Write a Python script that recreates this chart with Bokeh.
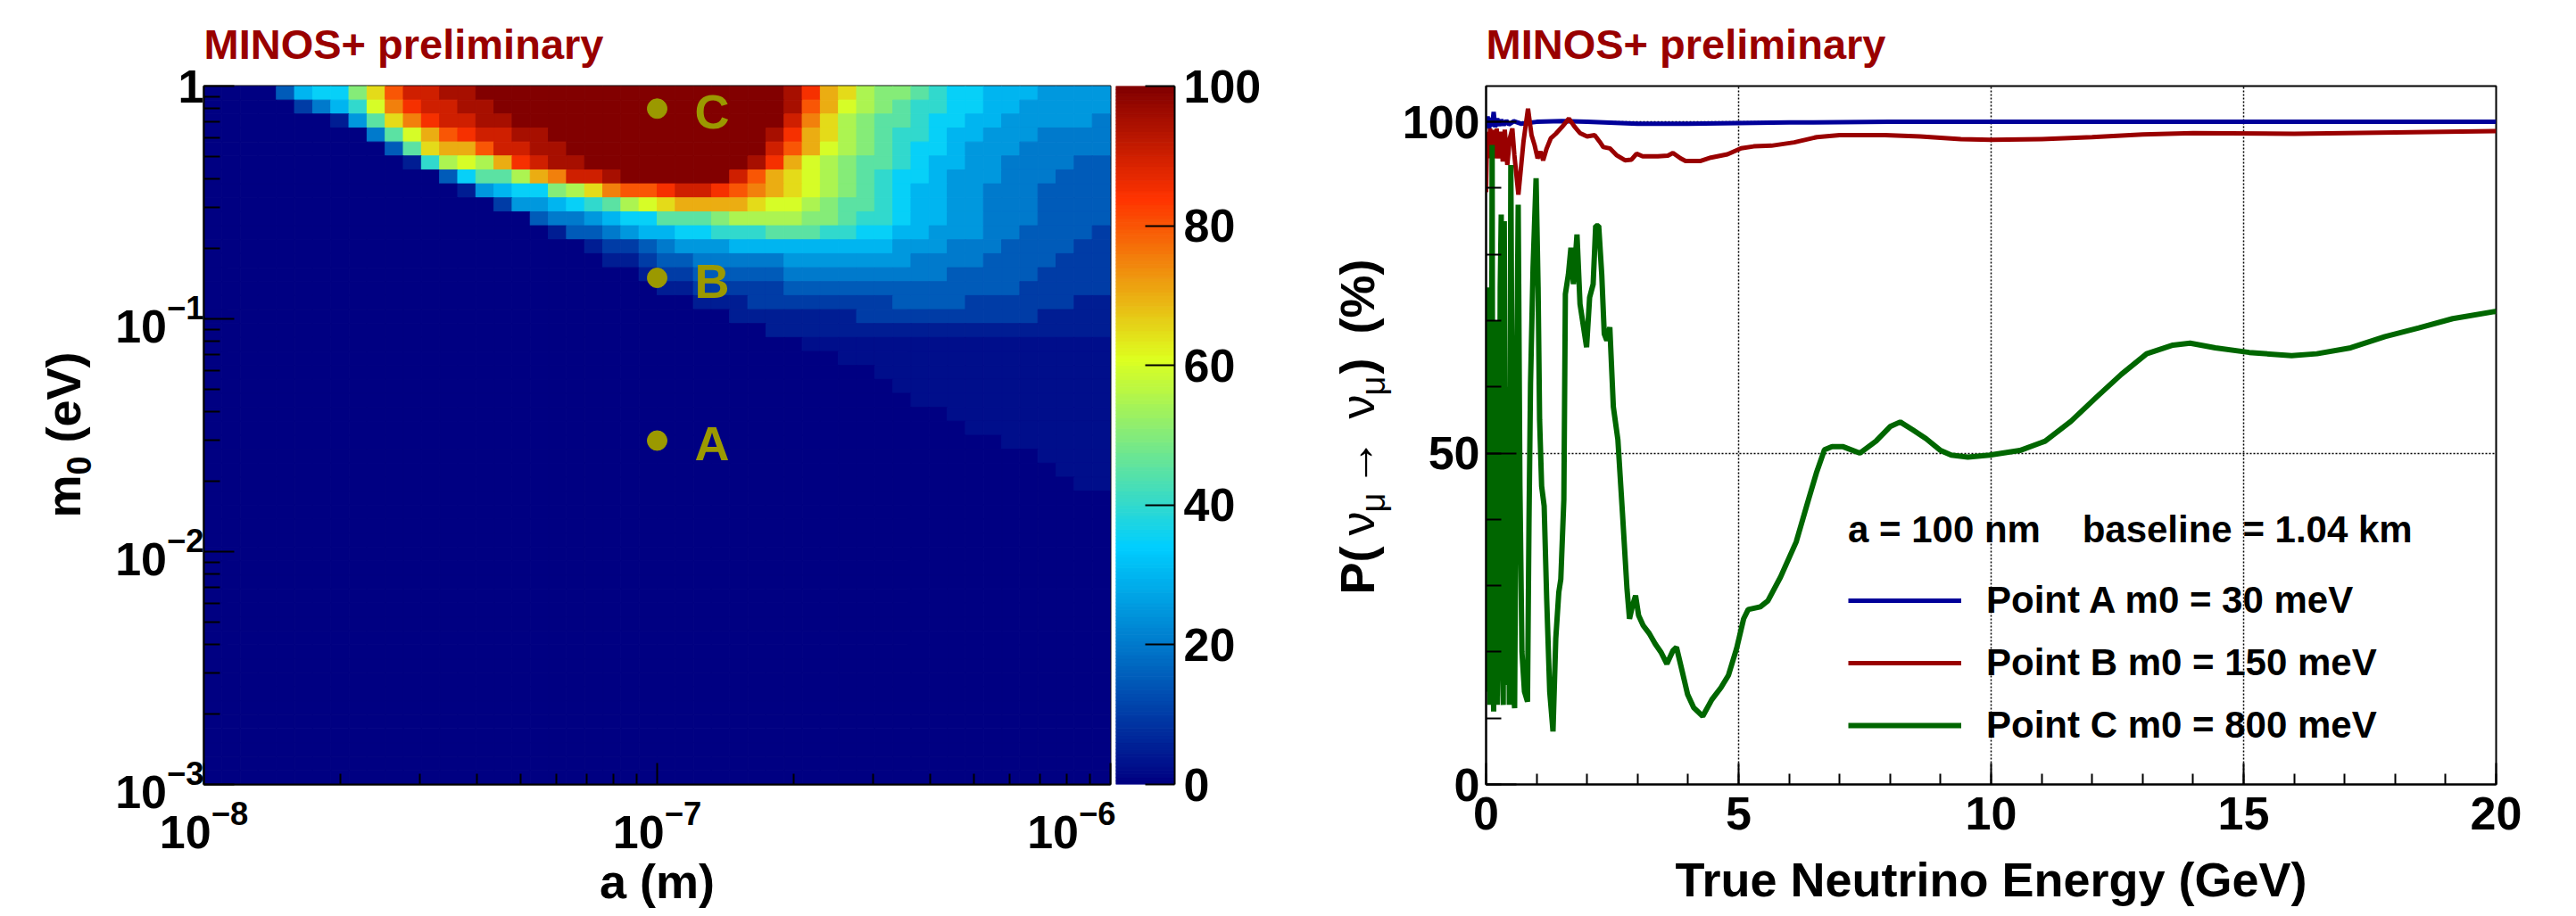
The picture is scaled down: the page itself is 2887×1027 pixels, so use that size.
import numpy as np
from bokeh.plotting import figure
from bokeh.layouts import row
from bokeh.models import (Range1d, FixedTicker, SingleIntervalTicker, LogTickFormatter,
                          LinearColorMapper, Legend, LegendItem, ColumnDataSource)
from bokeh.core.properties import value
from bokeh.embed import file_html
from bokeh.resources import INLINE

FONT = "Liberation Sans"

# ------------------------------------------------------------------ data: left panel
A_LOG_RANGE = (-8.0, -6.0)
M_LOG_RANGE = (0.0, -3.0)
N_COLS, N_ROWS = 50, 50
CELL_CODE = "0123456789abcdefghijk"   # value (%) = 5 * index ; '.' = 2.5 %
HEAT_ROWS = [
    "00003677adgiijj" + "k" * 17 + "jhedbaa98776665555",
    "000002468cfhiijj" + "k" * 16 + "jgecba988776655555",
    "0000000159dfhiijj" + "k" * 15 + "ifdba9987766555554",
    "000000000" + "49ceghiijj" + "k" * 12 + "jhedba9887665554444",
    "0000000000" + "39deegiijj" + "k" * 11 + "igecba9877655544444",
    "00000000000" + "18bcbehijj" + "k" * 9 + "jhecba99876655444433",
    "0000000000000" + "3799befiijkk" + "kkkk" + "igedcba98776555444333",
    "00000000000000" + "15677abdfgg" + "hiihgfedcba98766554443333",
    "0" * 16 + "2556789bc" + "deeeedccba998766554443333",
    "0" * 18 + "3445677" + "999abbbbaa988766554443333",
    "0" * 19 + "133456" + "6778889998877665554433332",
    "0" * 21 + "1223" + "4555666666666555444333322",
    "0" * 22 + "112" + "3344444555555544443333222",
    "0" * 24 + "1" + "2233333444444444333332222",
    "0" * 25 + "1122222333333333333322222",
    "0" * 27 + "11122222222333322222211",
    "0" * 29 + "111111122222222221111",
    "0" * 31 + "1" * 19,
    "0" * 33 + "." * 17,
    "0" * 35 + "." * 15,
    "0" * 37 + "." * 13,
    "0" * 38 + "." * 12,
    "0" * 39 + "." * 11,
    "0" * 41 + "." * 9,
    "0" * 42 + "." * 8,
    "0" * 44 + "." * 6,
    "0" * 46 + "." * 4,
    "0" * 47 + "." * 3,
    "0" * 48 + "." * 2,
] + ["0" * 50] * 21

POINT_A = [1e-7, 1e-7, 1e-7]          # a (m)
POINT_M0 = [0.03, 0.15, 0.8]          # m0 (eV)
POINT_NAMES = ["A", "B", "C"]

COLORBAR_TICKS = [0, 20, 40, 60, 80, 100]

# ------------------------------------------------------------------ data: right panel
E_A = [0.0, 0.03, 0.06, 0.09, 0.12, 0.15, 0.18, 0.22, 0.26, 0.30, 0.35, 0.40, 0.45, 0.55,
       0.70, 1.0, 1.5, 2.0, 3.0, 4.0, 5.0, 6.0, 8.0, 12.0, 16.0, 20.0]
P_A = [99.5, 100.8, 99.0, 100.6, 99.3, 101.5, 99.2, 100.5, 99.4, 100.3, 99.5, 100.2, 99.6, 100.1,
       99.7, 100.0, 100.1, 100.0, 99.7, 99.7, 99.8, 99.9, 100.0, 100.0, 100.0, 100.0]

E_B = [0.00, 0.02, 0.05, 0.08, 0.11, 0.14, 0.17, 0.21, 0.25, 0.29, 0.33, 0.37, 0.42, 0.47,
       0.52, 0.56, 0.64, 0.74, 0.83, 0.90, 0.96, 1.02, 1.08, 1.13, 1.20, 1.28, 1.38, 1.50,
       1.64, 1.75, 1.86, 2.00, 2.15, 2.25, 2.32, 2.45, 2.58, 2.75, 2.88, 2.98, 3.10, 3.40,
       3.60, 3.70, 3.85, 3.95, 4.25, 4.45, 4.78, 5.05, 5.30, 5.65, 6.10, 6.55, 7.00, 7.90,
       8.60, 9.40, 10.0, 11.0, 12.0, 13.0, 14.0, 16.0, 18.0, 20.0]
P_B = [89.4, 98.5, 94.5, 99.0, 95.0, 98.8, 94.5, 99.0, 94.5, 98.5, 94.0, 98.8, 93.5, 97.5,
       99.0, 95.0, 89.0, 97.0, 102.0, 98.0, 96.5, 94.5, 95.5, 94.2, 96.0, 97.5, 98.2, 99.2,
       100.5, 99.3, 98.3, 97.8, 98.0, 97.0, 96.2, 96.0, 95.0, 94.2, 94.3, 95.2, 94.8, 94.8,
       94.9, 95.3, 94.5, 94.1, 94.1, 94.6, 95.1, 96.0, 96.3, 96.4, 96.9, 97.7, 98.0, 98.0,
       97.8, 97.4, 97.3, 97.4, 97.7, 98.1, 98.3, 98.2, 98.4, 98.6]

E_C = [0.000, 0.006, 0.012, 0.018, 0.024, 0.030, 0.036, 0.042, 0.050, 0.060, 0.075, 0.090,
       0.105, 0.120, 0.135, 0.150, 0.170, 0.190, 0.205, 0.220, 0.240, 0.255, 0.280, 0.300,
       0.320, 0.340, 0.360, 0.390, 0.430, 0.460, 0.490, 0.520, 0.545, 0.565, 0.600, 0.636,
       0.670, 0.710, 0.760, 0.820, 0.850, 0.880, 0.930, 0.990, 1.030, 1.060, 1.100, 1.150,
       1.200, 1.260, 1.325, 1.380, 1.440, 1.480, 1.540, 1.570, 1.630, 1.680, 1.730, 1.800,
       1.860, 1.990, 2.050, 2.120, 2.170, 2.230, 2.290, 2.340, 2.390, 2.450, 2.520, 2.610,
       2.700, 2.790, 2.840, 2.900, 2.960, 3.020, 3.110, 3.230, 3.350, 3.460, 3.580, 3.700,
       3.770, 3.870, 3.990, 4.110, 4.290, 4.470, 4.650, 4.800, 4.960, 5.100, 5.190, 5.430,
       5.580, 5.830, 6.140, 6.380, 6.540, 6.700, 6.850, 7.060, 7.400, 7.720, 8.000, 8.200,
       8.450, 8.710, 9.000, 9.210, 9.540, 9.970, 10.570, 11.070, 11.580, 12.080, 12.580,
       13.080, 13.600, 13.940, 14.440, 15.110, 15.950, 16.450, 17.120, 17.800, 18.470,
       19.140, 20.000]
P_C = [48, 74, 22, 70, 30, 66, 14, 75, 18, 66, 12, 60,
       35, 96.5, 20, 11, 64, 15, 70, 12, 65, 22, 75, 86,
       18, 12, 85, 15, 60, 12, 93.5, 50, 14, 11.5, 55, 87.5,
       45, 20, 14, 12.5, 40, 60.5, 78, 91.5, 75, 55, 45, 42,
       28, 14, 8, 22, 29, 31, 43, 74, 77, 81, 75.5, 83,
       72.5, 66, 73.5, 75.5, 84.3, 84.3, 77, 68, 67, 69, 57, 52,
       41, 29.5, 25, 27, 28.5, 25.5, 24, 22.8, 21.2, 20, 18.2, 20.2,
       20.7, 17.5, 13.6, 11.6, 10.3, 12.8, 14.6, 16.5, 20.5, 25, 26.4, 26.8,
       27.7, 31.3, 36.6, 42.9, 47, 50.5, 51, 51, 50, 51.8, 54, 54.7,
       53.5, 52.2, 50.4, 49.7, 49.4, 49.7, 50.4, 51.8, 54.8, 58.4, 61.9,
       65, 66.3, 66.6, 65.9, 65.2, 64.7, 65, 65.9, 67.6, 68.9,
       70.3, 71.4]

LEGEND_TITLE = "a = 100 nm\u00a0\u00a0\u00a0\u00a0baseline = 1.04 km"
LEGEND_LABELS = ["Point A m0 = 30 meV", "Point B m0 = 150 meV", "Point C m0 = 800 meV"]

# vertical axis titles, written in pieces (main text / subscripts): (text, size px, weight)
M0_TITLE = [("m", 54, "bold"), ("0", 38, "bold"), ("(eV)", 54, "bold")]
P_TITLE = [("P(", 54, "bold"), ("\u03bd", 54, "normal"), ("\u03bc", 38, "normal"),
           ("\u2192", 54, "normal"), ("\u03bd", 54, "normal"), ("\u03bc", 38, "normal"),
           (")", 54, "bold"), ("(%)", 54, "bold")]

# ------------------------------------------------------------------ style / layout
STOPS = [0.00, 0.34, 0.61, 0.84, 1.00]
RED = [0.00, 0.00, 0.87, 1.00, 0.51]
GREEN = [0.00, 0.81, 1.00, 0.20, 0.00]
BLUE = [0.51, 1.00, 0.12, 0.00, 0.00]
_t = np.linspace(0, 1, 256)
PALETTE = ["#%02x%02x%02x" % (int(round(255 * r)), int(round(255 * g)), int(round(255 * b)))
           for r, g, b in zip(np.interp(_t, STOPS, RED), np.interp(_t, STOPS, GREEN),
                              np.interp(_t, STOPS, BLUE))]
mapper = LinearColorMapper(palette=PALETTE, low=0, high=100)
TITLE_RED = "#990000"
OLIVE = "#9b9900"

TOP, BOTTOM = 96, 148
FRAME_H = 783
# page-pixel positions of the title pieces: (baseline x, start y)
M0_POS = [(89, 580), (101, 532), (89, 496)]
P_POS = [(1539, 666), (1539, 600), (1552, 574), (1539, 545), (1539, 469), (1552, 443),
         (1539, 419), (1539, 374)]


def style_axis(ax, major_in, minor_in, standoff):
    ax.major_tick_in = major_in
    ax.major_tick_out = 0
    ax.minor_tick_in = minor_in
    ax.minor_tick_out = 0
    ax.axis_line_width = 2
    ax.major_tick_line_width = 2
    ax.minor_tick_line_width = 2
    ax.major_label_text_font = FONT
    ax.major_label_text_font_style = "bold"
    ax.major_label_text_font_size = "52px"
    ax.major_label_text_color = "black"
    ax.major_label_standoff = standoff
    ax.axis_label_text_font = FONT
    ax.axis_label_text_font_style = "bold"
    ax.axis_label_text_font_size = "54px"
    ax.axis_label_text_color = "black"


def style_title(fig):
    fig.title.text = "MINOS+ preliminary"
    fig.title.text_color = TITLE_RED
    fig.title.text_font = FONT
    fig.title.text_font_style = "bold"
    fig.title.text_font_size = "47px"
    fig.title.align = "left"
    fig.title.standoff = 41


def title_strip(x0, width, pieces, positions):
    """narrow figure without axes; its frame shares the plots' frame rows, data units = page px"""
    s = figure(frame_width=width, frame_height=FRAME_H, x_range=Range1d(x0, x0 + width),
               y_range=Range1d(TOP + FRAME_H, TOP), min_border_left=0, min_border_right=0,
               min_border_top=TOP, min_border_bottom=BOTTOM, x_axis_location=None,
               y_axis_location=None, toolbar_location=None, output_backend="svg", title=None)
    s.outline_line_color = None
    s.grid.visible = False
    for (txt, size, weight), (px, py) in zip(pieces, positions):
        # rotated text is centred on its anchor: baseline lies ~0.35 em right of the centre
        s.text(x=[px - 0.35 * size], y=[py], text=[txt], angle=np.pi / 2, text_align="left",
               text_baseline="middle", text_font=value(FONT), text_font_style=weight,
               text_font_size=f"{size}px", text_color="black")
    return s


s1 = title_strip(0, 112, M0_TITLE, M0_POS)

a_edges = 10 ** np.linspace(A_LOG_RANGE[0], A_LOG_RANGE[1], N_COLS + 1)
m_edges = 10 ** np.linspace(M_LOG_RANGE[0], M_LOG_RANGE[1], N_ROWS + 1)
left, right, top, bottom, vals = [], [], [], [], []
for j, rs in enumerate(HEAT_ROWS):
    assert len(rs) == N_COLS, (j, len(rs))
    for i, ch in enumerate(rs):
        left.append(a_edges[i]); right.append(a_edges[i + 1])
        top.append(m_edges[j]); bottom.append(m_edges[j + 1])
        vals.append(2.5 if ch == "." else 5.0 * CELL_CODE.index(ch))
heat_src = ColumnDataSource(dict(left=left, right=right, top=top, bottom=bottom, v=vals))

p1 = figure(frame_width=1016, frame_height=FRAME_H, x_axis_type="log", y_axis_type="log",
            x_range=Range1d(1e-8, 1e-6), y_range=Range1d(1e-3, 1),
            min_border_left=116, min_border_right=6, min_border_top=TOP, min_border_bottom=BOTTOM,
            toolbar_location=None, output_backend="svg")
p1.quad(left="left", right="right", top="top", bottom="bottom", source=heat_src,
        fill_color={"field": "v", "transform": mapper},
        line_color={"field": "v", "transform": mapper}, line_width=1)
p1.scatter(x=POINT_A, y=POINT_M0, size=22, fill_color=OLIVE, line_color=OLIVE)
p1.text(x=POINT_A, y=POINT_M0, text=POINT_NAMES, x_offset=42, y_offset=3,
        text_align="left", text_baseline="middle", text_font=value(FONT),
        text_font_style="bold", text_font_size="54px", text_color=OLIVE)
p1.grid.visible = False
p1.outline_line_color = "black"
p1.outline_line_width = 2
p1.xaxis.ticker = FixedTicker(ticks=[1e-8, 1e-7, 1e-6],
                              minor_ticks=[k * 10.0 ** e for e in (-8, -7) for k in range(2, 10)])
p1.yaxis.ticker = FixedTicker(ticks=[1e-3, 1e-2, 1e-1, 1.0],
                              minor_ticks=[k * 10.0 ** e for e in (-3, -2, -1) for k in range(2, 10)])
p1.xaxis.formatter = LogTickFormatter()
p1.yaxis.formatter = LogTickFormatter()
p1.yaxis.major_label_overrides = {1: "1"}
style_axis(p1.xaxis[0], 24, 12, 18)
style_axis(p1.yaxis[0], 34, 18, 0)
p1.xaxis.axis_label = "a (m)"
p1.xaxis.axis_label_standoff = 4
style_title(p1)

levels = np.linspace(0, 100, 201)
cb_src = ColumnDataSource(dict(bottom=levels[:-1], top=levels[1:], v=(levels[:-1] + levels[1:]) / 2))
p2 = figure(frame_width=66, frame_height=FRAME_H, x_range=Range1d(0, 1), y_range=Range1d(0, 100),
            y_axis_location="right", min_border_left=0, min_border_right=124,
            min_border_top=TOP, min_border_bottom=BOTTOM, toolbar_location=None, output_backend="svg")
p2.quad(left=0, right=1, bottom="bottom", top="top", source=cb_src,
        fill_color={"field": "v", "transform": mapper},
        line_color={"field": "v", "transform": mapper}, line_width=1)
p2.xaxis.visible = False
p2.grid.visible = False
p2.outline_line_color = None
p2.yaxis.ticker = FixedTicker(ticks=COLORBAR_TICKS)
style_axis(p2.yaxis[0], 33, 0, 10)

s3 = title_strip(1440, 128, P_TITLE, P_POS)

p3 = figure(frame_width=1132, frame_height=FRAME_H, x_range=Range1d(0, 20), y_range=Range1d(0, 105.4),
            min_border_left=96, min_border_right=91, min_border_top=TOP, min_border_bottom=BOTTOM,
            toolbar_location=None, output_backend="svg")
p3.xaxis.ticker = SingleIntervalTicker(interval=5, num_minor_ticks=5)
p3.yaxis.ticker = SingleIntervalTicker(interval=50, num_minor_ticks=5)
p3.xgrid.ticker = p3.xaxis.ticker
p3.ygrid.ticker = p3.yaxis.ticker
for g in (p3.xgrid[0], p3.ygrid[0]):
    g.grid_line_color = "black"
    g.grid_line_dash = "2 2"
    g.grid_line_width = 1.5
p3.outline_line_color = "black"
p3.outline_line_width = 2
style_axis(p3.xaxis[0], 24, 12, 14)
style_axis(p3.yaxis[0], 34, 17, 7)
p3.xaxis.axis_label = "True Neutrino Energy (GeV)"
p3.xaxis.axis_label_standoff = 23

rA = p3.line(E_A, P_A, line_color="#000099", line_width=5)
rB = p3.line(E_B, P_B, line_color="#990000", line_width=5)
rC = p3.line(E_C, P_C, line_color="#006600", line_width=6)

legend = Legend(items=[LegendItem(label=LEGEND_LABELS[0], renderers=[rA]),
                       LegendItem(label=LEGEND_LABELS[1], renderers=[rB]),
                       LegendItem(label=LEGEND_LABELS[2], renderers=[rC])],
                location=(406, 41), title=LEGEND_TITLE,
                title_text_font=FONT, title_text_font_style="bold", title_text_font_size="42px",
                title_text_color="black", title_standoff=30,
                label_text_font=FONT, label_text_font_style="bold", label_text_font_size="42px",
                label_text_color="black",
                glyph_width=127, glyph_height=50, label_height=50, label_standoff=28, spacing=20,
                padding=0, margin=0, border_line_alpha=0, background_fill_alpha=0)
p3.add_layout(legend)
style_title(p3)

layout = row(s1, p1, p2, s3, p3)
open("out.html", "w").write(file_html(layout, INLINE))
